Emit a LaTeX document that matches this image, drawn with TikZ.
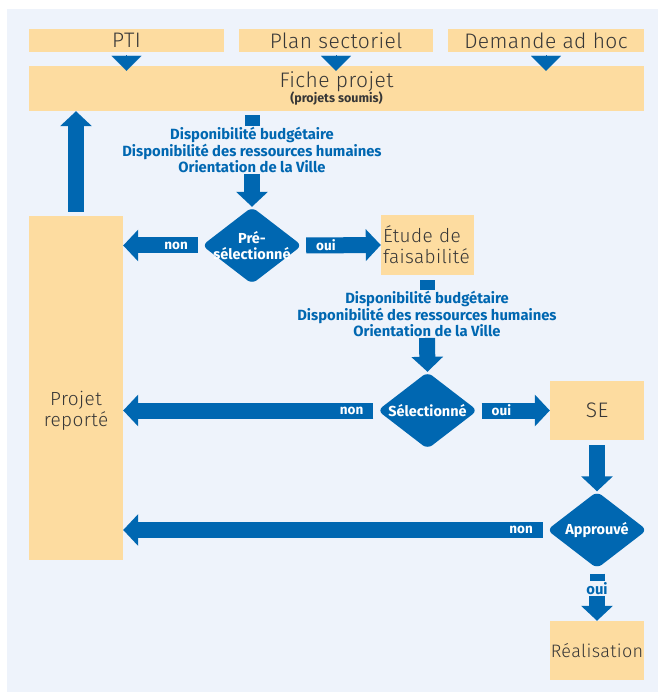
\documentclass[tikz,border=0pt]{standalone}
\usepackage{fontspec}
\setmainfont{Fira Sans}
\newfontfamily\lightfont{Fira Sans}[UprightFont={* Light},LetterSpace=2]
\usetikzlibrary{arrows.meta,shapes.geometric}

\definecolor{villeblue}{RGB}{0,103,177}
\definecolor{beige}{RGB}{253,220,160}
\definecolor{panel}{RGB}{238,243,251}
\definecolor{boxgray}{RGB}{55,55,55}

\begin{document}
\begin{tikzpicture}[x=1pt,y=-1pt,
  box/.style={fill=beige,inner sep=0pt,text=boxgray,font=\lightfont\fontsize{19}{21}\selectfont},
  bigbox/.style={box,font=\lightfont\fontsize{21}{22}\selectfont},
  boxtext/.style={text=boxgray,font=\lightfont\fontsize{19}{21}\selectfont,align=center,inner sep=0pt},
  crit/.style={text=villeblue,font=\fontsize{14.8}{15.2}\selectfont\bfseries,align=center,inner sep=1pt},
  decision/.style={diamond,fill=villeblue,minimum width=100pt,minimum height=77pt,inner sep=0pt,rounded corners=6pt},
  dtext/.style={text=white,font=\fontsize{14.5}{15.5}\selectfont\bfseries,align=center},
  fat/.style={draw=villeblue,line width=16pt,-{Triangle[length=15pt,width=31pt]}},
  stub/.style={draw=villeblue,line width=15pt},
  tip/.style={draw=villeblue,fill=villeblue,line width=0.1pt,-{Triangle[length=15pt,width=30pt]}},
  answer/.style={text=white,font=\fontsize{13.5}{14}\selectfont\bfseries,inner sep=2pt}]

% page and panel
  \useasboundingbox (0,0) rectangle (658,692);
  \fill[panel] (7,9) rectangle (658,692);

% sources
  \node[bigbox,minimum width=195pt,minimum height=23pt] (pti)     at (126.5,40.5) {PTI};
  \node[bigbox,minimum width=194pt,minimum height=23pt] (plan)    at (336,40.5)   {Plan sectoriel};
  \node[bigbox,minimum width=196pt,minimum height=23pt] (demande) at (546,40.5)   {Demande ad hoc};
  \node[bigbox,minimum width=615pt,minimum height=45pt,align=center] (fiche) at (336.5,88.5)
       {Fiche projet\\[-7pt]{\normalfont\fontsize{12.5}{13}\selectfont\bfseries (projets soumis)}};

% boxes
  \node[box,minimum width=94pt,minimum height=344pt] (reporte) at (76,388) {};
  \node[box,minimum width=93pt,minimum height=60pt,text width=89pt,align=left] (etude) at (427.5,245)
       {Étude de\\faisabilité};
  \node[bigbox,minimum width=94pt,minimum height=59pt] (se)   at (597,410.5) {SE};
  \node[box,minimum width=94pt,minimum height=59pt,font=\lightfont\fontsize{18}{20}\selectfont] (real) at (597,650.5) {Réalisation};

% decisions
  \node[decision,label={[dtext]center:Pré-\\sélectionné}] (presel)   at (252,245.5) {};
  \node[decision,label={[dtext]center:Sélectionné}]      (sel)      at (427.5,410.5) {};
  \node[decision,label={[dtext]center:Approuvé}]         (approuve) at (597,530) {};

  \node[boxtext] (reptext) at (reporte |- sel) {Projet\\reporté};

% criteria
  \node[crit] (crit1) at (252,150) {Disponibilité budgétaire\\Disponibilité des ressources humaines\\Orientation de la Ville};
  \node[crit] (crit2) at (427,314) {Disponibilité budgétaire\\Disponibilité des ressources humaines\\Orientation de la Ville};
  \node[crit] (ouitext) at (597,588.5) {oui};

% small arrowheads into the fiche
  \foreach \src in {pti,plan,demande}
    \draw[tip] ([yshift=-3pt]\src.south) -- ([yshift=-5pt]\src.south |- fiche.north);

% flow
  \draw[stub] ([yshift=-4pt]fiche.south -| crit1) -- ([yshift=-15pt]fiche.south -| crit1);
  \draw[fat] (crit1.south) -- (presel.north);
  \draw[fat] ([xshift=4pt]presel.east) -- (etude.west) node[answer,pos=0,anchor=west] {oui};
  \draw[fat] ([xshift=-4pt]presel.west) -- (reporte.east |- presel) node[answer,pos=0,anchor=east] {non};
  \draw[fat] ([yshift=4pt]reporte.north) -- (reporte.north |- fiche.south);

  \draw[stub] ([yshift=-5pt]etude.south -| crit2) -- ([yshift=-15pt]etude.south -| crit2);
  \draw[fat] (crit2.south) -- (sel.north);
  \draw[fat] ([xshift=4pt]sel.east) -- (se.west) node[answer,pos=0,anchor=west] {oui};
  \draw[fat] ([xshift=-4pt]sel.west) -- (reporte.east |- sel) node[answer,pos=0,anchor=east] {non};

  \draw[fat] ([yshift=-5pt]se.south) -- (approuve.north);
  \draw[fat] ([xshift=-4pt]approuve.west) -- (reporte.east |- approuve) node[answer,pos=0,anchor=east] {non};
  \draw[stub] ([yshift=-5pt]approuve.south) -- ([yshift=-12pt]approuve.south);
  \draw[fat] (ouitext.south) -- (real.north);

\end{tikzpicture}
\end{document}
